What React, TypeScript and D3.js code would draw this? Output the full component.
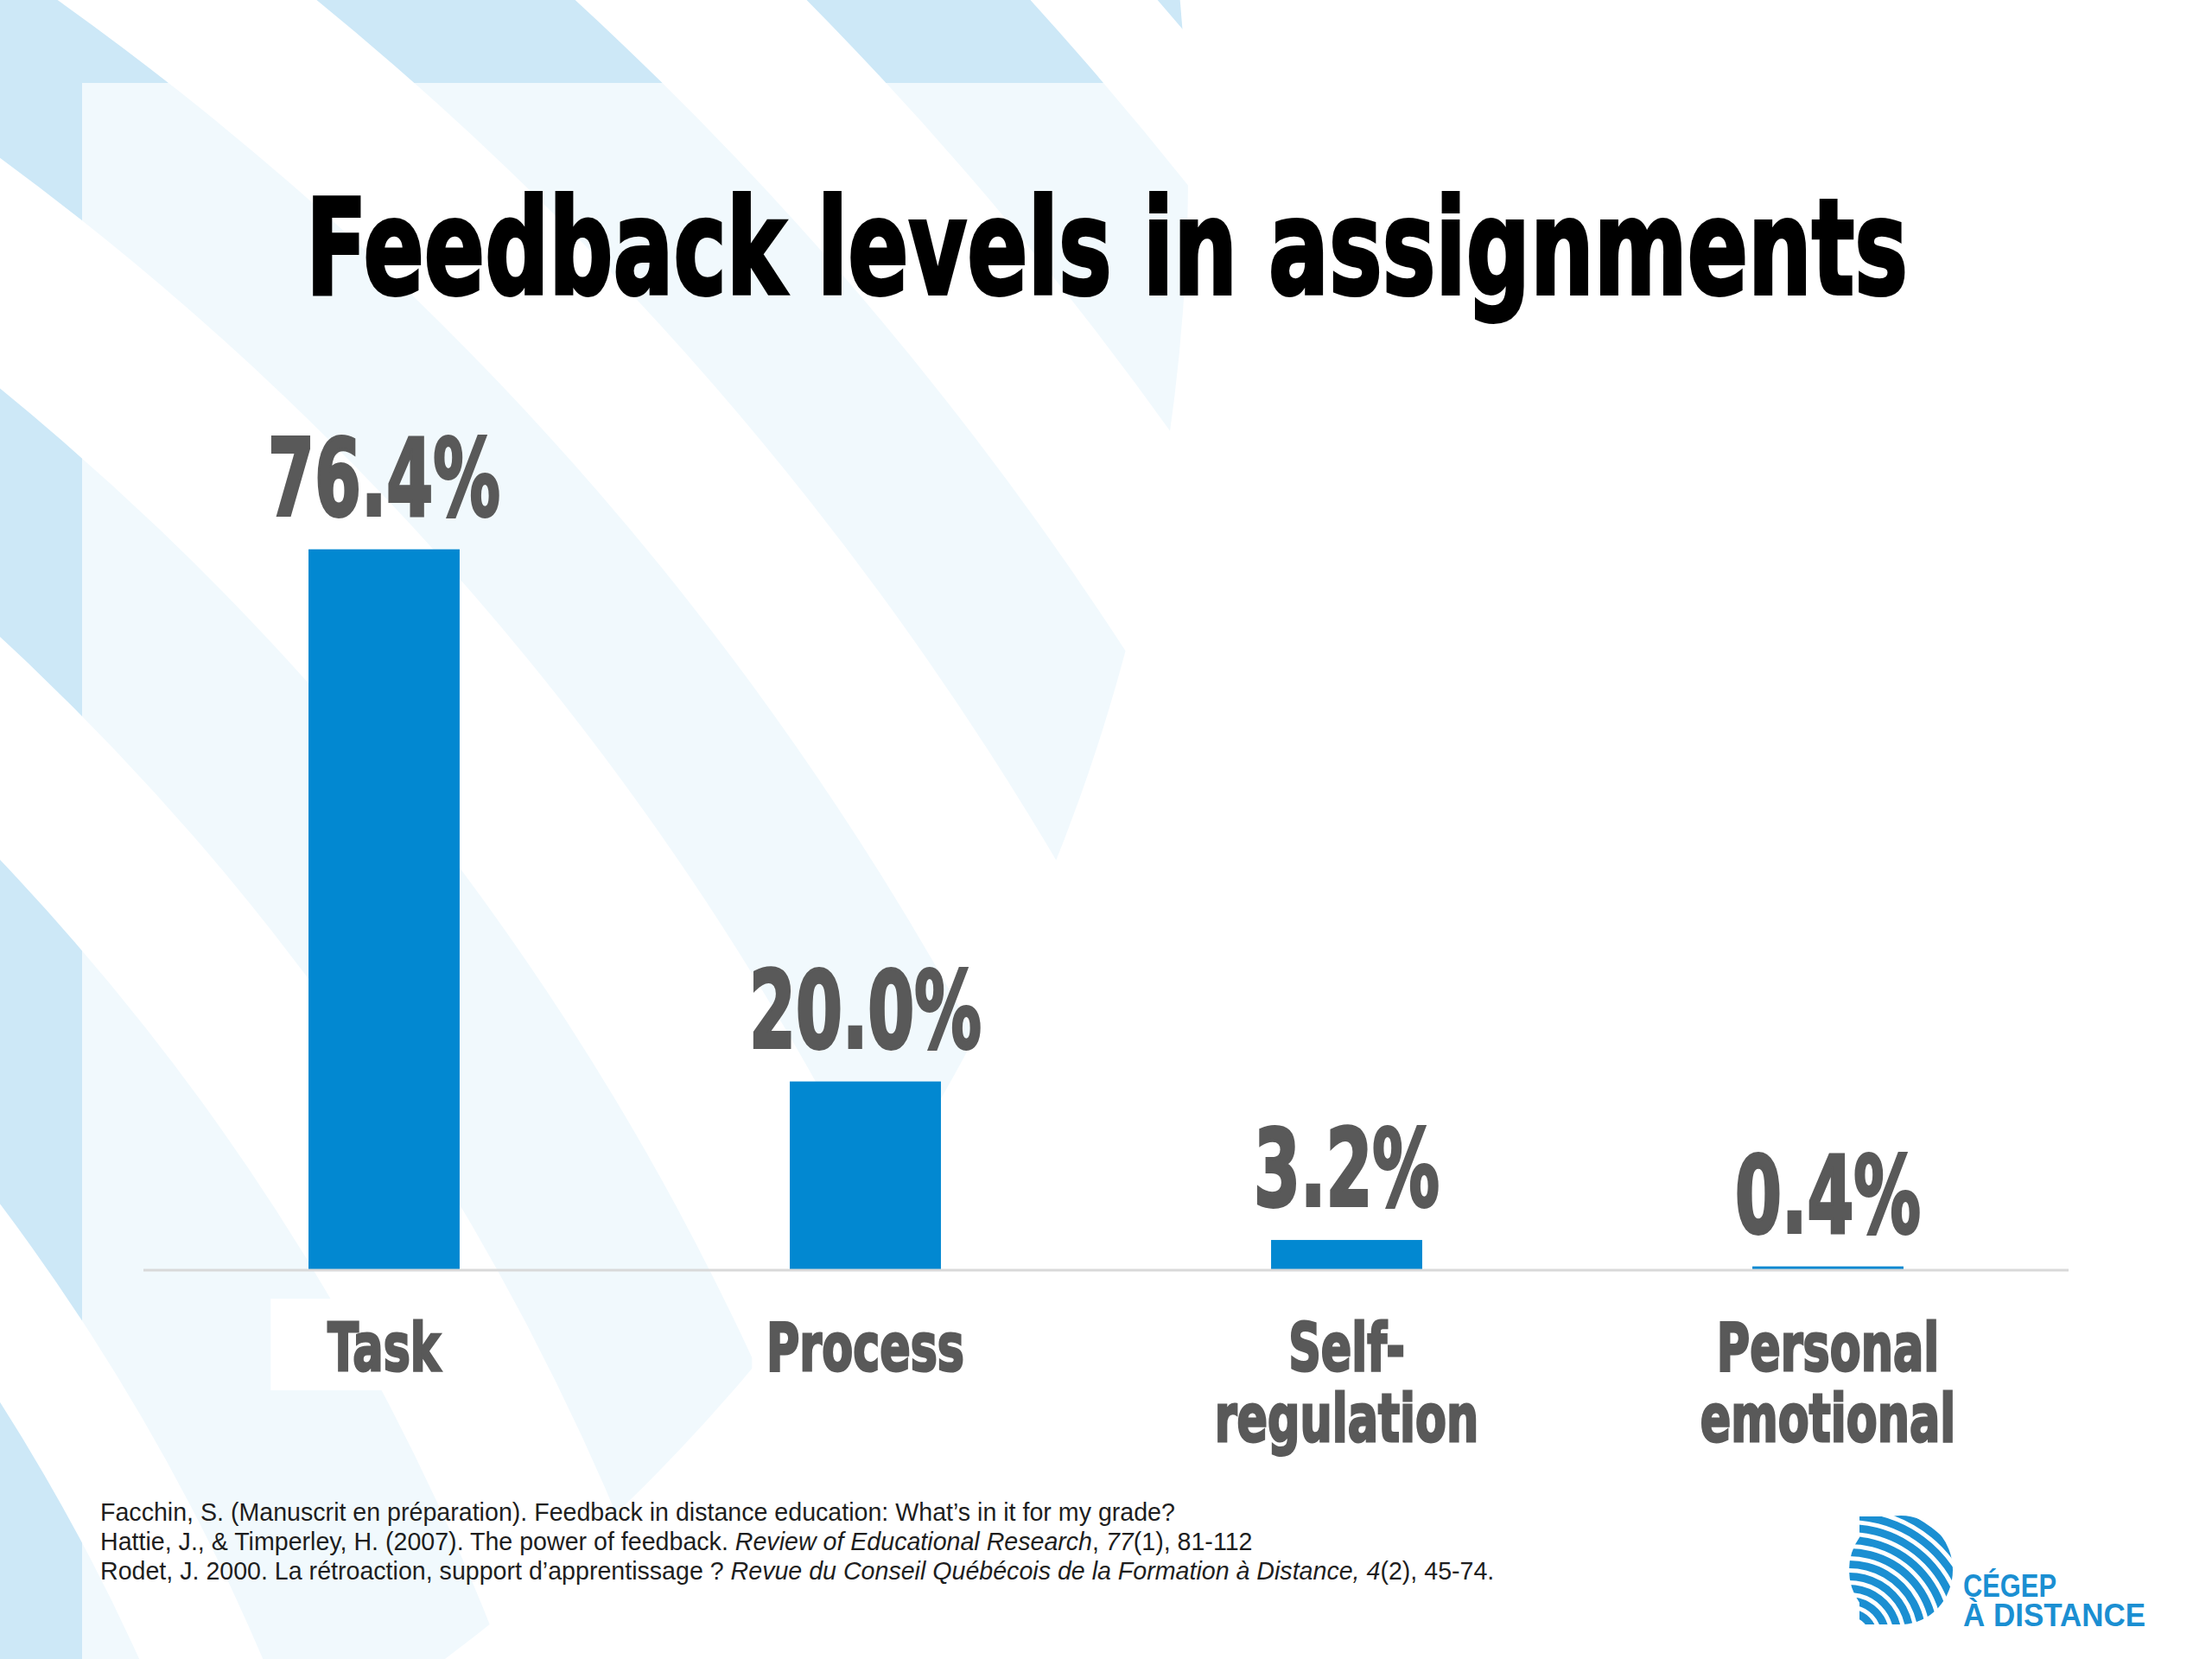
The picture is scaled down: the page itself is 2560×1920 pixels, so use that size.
import * as d3 from "d3";

// chart data
const categories = ["Task", "Process", "Self-regulation", "Personal emotional"];
const labelLines = [["Task"], ["Process"], ["Self-", "regulation"], ["Personal", "emotional"]];
const shares = [76.4, 20.0, 3.2, 0.4];
const valueLabels = ["76.4%", "20.0%", "3.2%", "0.4%"];

const title = "Feedback levels in assignments";
const references = [
  [{ t: "Facchin, S. (Manuscrit en préparation). Feedback in distance education: What’s in it for my grade?", i: false }],
  [
    { t: "Hattie, J., & Timperley, H. (2007). The power of feedback. ", i: false },
    { t: "Review of Educational Research", i: true },
    { t: ", ", i: false },
    { t: "77", i: true },
    { t: "(1), 81-112", i: false },
  ],
  [
    { t: "Rodet, J. 2000. La rétroaction, support d’apprentissage ? ", i: false },
    { t: "Revue du Conseil Québécois de la Formation à Distance, 4", i: true },
    { t: "(2), 45-74.", i: false },
  ],
];

// background stripe rings (decoration)
const bgRings = [
  [1700, 2373], [2504, 2762], [2946, 3163], [3374, 3561], [3743, 3939], [4125, 4313], [4423, 4800],
];
const logoRings = d3.range(10, 170, 14);

const W = 2560;
const H = 1920;
const heavy = "'DejaVu Sans', 'Liberation Sans', sans-serif";
const plain = "'Liberation Sans', Arial, sans-serif";
const grey = "#595959";
const blue = "#0288d1";

export default function App() {
  const x = d3.scaleBand<string>()
    .domain(categories)
    .range([166, 2394])
    .paddingInner(0.686)
    .paddingOuter(0.343);

  const y = d3.scaleLinear()
    .domain([0, 100])
    .range([1470, 378]);

  const arc = d3.arc<any>();
  const bgCenter = [-2000, 2900];
  const logoCenter = [2140, 1895];

  return (
    <svg width={W} height={H} style={{ position: "absolute", left: 0, top: 0, background: "#fff" }}>
      <defs>
        <clipPath id="bgclip">
          <circle cx={-775} cy={200} r={2150} />
        </clipPath>
        <clipPath id="logoclip">
          <rect x={2152} y={1755} width={50} height={125} />
          <ellipse cx={2200} cy={1817} rx={60} ry={63} />
        </clipPath>
      </defs>

      {/* background stripes */}
      <g clipPath="url(#bgclip)">
        {bgRings.map(([r0, r1], i) => (
          <path
            key={i}
            transform={`translate(${bgCenter[0]},${bgCenter[1]})`}
            d={arc({ innerRadius: r0, outerRadius: r1, startAngle: 0.2, endAngle: 1.7 }) || ""}
            fill="#cde8f7"
          />
        ))}
      </g>
      <rect x={95} y={96} width={W - 95} height={H - 96} fill="#fff" opacity={0.72} />

      {/* title */}
      <text
        x={354}
        y={340}
        textLength={1854}
        lengthAdjust="spacingAndGlyphs"
        fontFamily={heavy}
        fontWeight="bold"
        fontSize={154}
        fill="#000"
        stroke="#000"
        strokeWidth={4}
      >
        {title}
      </text>

      {/* label backgrounds */}
      {categories.map((c) => (
        <rect
          key={c}
          x={(x(c) as number) + x.bandwidth() / 2 - x.bandwidth() * 0.75}
          y={1503}
          width={x.bandwidth() * 1.5}
          height={106}
          fill="#fff"
        />
      ))}

      {/* bars */}
      {categories.map((c, i) => (
        <rect
          key={c}
          x={x(c)}
          y={y(shares[i])}
          width={x.bandwidth()}
          height={y(0) - y(shares[i])}
          fill={blue}
        />
      ))}

      {/* axis line */}
      <line x1={x.range()[0]} x2={x.range()[1]} y1={y(0)} y2={y(0)} stroke="#d9d9d9" strokeWidth={3} />

      {/* value labels */}
      {categories.map((c, i) => (
        <text
          key={c}
          transform={`translate(${(x(c) as number) + x.bandwidth() / 2},${y(shares[i]) - 40}) scale(0.63,1)`}
          textAnchor="middle"
          fontFamily={heavy}
          fontWeight="bold"
          fontSize={123}
          fill={grey}
          stroke={grey}
          strokeWidth={4}
        >
          {valueLabels[i]}
        </text>
      ))}

      {/* category labels */}
      {categories.map((c, i) => (
        <g key={c}>
          {labelLines[i].map((line, j) => (
            <text
              key={line}
              transform={`translate(${(x(c) as number) + x.bandwidth() / 2},${1586 + j * 82}) scale(0.68,1)`}
              textAnchor="middle"
              fontFamily={heavy}
              fontWeight="bold"
              fontSize={77}
              fill={grey}
              stroke={grey}
              strokeWidth={3}
            >
              {line}
            </text>
          ))}
        </g>
      ))}

      {/* references */}
      {references.map((parts, i) => (
        <text key={i} x={116} y={1760 + i * 34} fontFamily={plain} fontSize={28.6} fill="#1e1e1e" xmlSpace="preserve">
          {parts.map((p, j) => (
            <tspan key={j} fontStyle={p.i ? "italic" : "normal"}>{p.t}</tspan>
          ))}
        </text>
      ))}

      {/* logo */}
      <g clipPath="url(#logoclip)">
        {logoRings.map((r) => (
          <path
            key={r}
            transform={`translate(${logoCenter[0]},${logoCenter[1]})`}
            d={arc({ innerRadius: r, outerRadius: r + 9, startAngle: -0.3, endAngle: 1.9 }) || ""}
            fill="#1b8fd2"
          />
        ))}
      </g>
      <text x={2272} y={1848} textLength={108} lengthAdjust="spacingAndGlyphs" fontFamily={plain} fontWeight="bold" fontSize={36} fill="#1b8fd2">
        CÉGEP
      </text>
      <text x={2272} y={1882} textLength={211} lengthAdjust="spacingAndGlyphs" fontFamily={plain} fontWeight="bold" fontSize={36} fill="#1b8fd2">
        À DISTANCE
      </text>
    </svg>
  );
}
